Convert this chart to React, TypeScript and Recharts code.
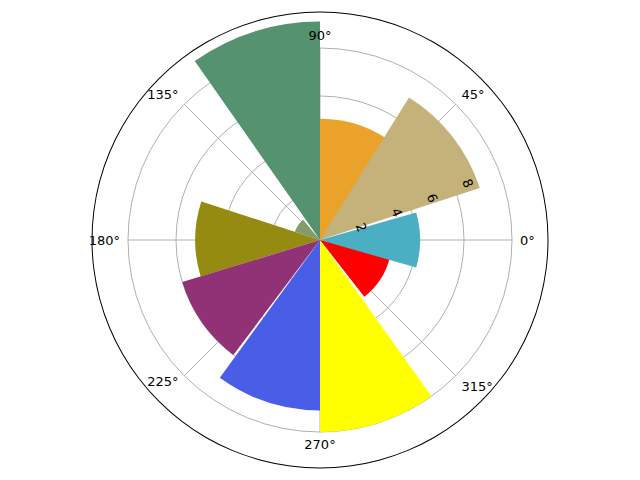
import { Pie, PieChart, PolarAngleAxis, PolarGrid, PolarRadiusAxis } from 'recharts'

const R_MAX = 9.5
const OUTER = 228

const barNames = ['teal', 'orange', 'tan', 'green', 'sage', 'olive', 'purple', 'blue', 'yellow', 'red']
const startAngles = [-16, 50, 18, 90, 130, 162, 197, 234, 270, 308]
const endAngles = [16, 90, 58, 125, 162, 197, 233, 270, 305.5, 348]
const radii = [4.17, 5.05, 7.0, 9.1, 1.1, 5.2, 6.0, 7.1, 8.0, 3.0]
const colors = ['#4bafc4', '#eba22b', '#c4b27a', '#559370', '#849b6a', '#948b10', '#903275', '#4a5de6', '#ffff00', '#ff0000']
// matplotlib draw order
const drawOrder = [1, 2, 3, 4, 5, 6, 7, 8, 9, 0]
const radialTicks = [2, 4, 6, 8]
const angleTicks = [0, 45, 90, 135, 180, 225, 270, 315]

const scaleR = (v: number) => (v / R_MAX) * OUTER

export default function App() {
  return (
    <div style={{ margin: -8, width: 640, height: 480, background: '#fff' }}>
      <PieChart width={640} height={480} margin={{ top: 0, right: 0, bottom: 0, left: 0 }}>
        {drawOrder.map((i) => (
          <Pie
            key={barNames[i]}
            data={[{ name: barNames[i], value: 1 }]}
            dataKey="value"
            cx={320}
            cy={240}
            innerRadius={0}
            outerRadius={scaleR(radii[i])}
            startAngle={startAngles[i]}
            endAngle={endAngles[i]}
            fill={colors[i]}
            stroke="none"
            isAnimationActive={false}
          />
        ))}
        <PolarAngleAxis
          type="number"
          dataKey="value"
          domain={[0, 360]}
          ticks={angleTicks}
          tickFormatter={(v: number) => `${v}°`}
          axisLine={false}
          tickLine={false}
          tick={{ fill: '#000', fontSize: 13, fontFamily: 'DejaVu Sans' }}
        />
        <PolarRadiusAxis
          type="number"
          domain={[0, R_MAX]}
          ticks={radialTicks}
          angle={22.5}
          axisLine={false}
          tickLine={false}
          tick={{ fill: '#000', fontSize: 13, fontFamily: 'DejaVu Sans' }}
        />
        <PolarGrid
          gridType="circle"
          cx={320}
          cy={240}
          outerRadius={OUTER}
          polarRadius={radialTicks.map(scaleR)}
          polarAngles={angleTicks}
          stroke="#b0b0b0"
        />
        <Pie
          data={[{ name: 'frame', value: 1 }]}
          dataKey="value"
          cx={320}
          cy={240}
          innerRadius={OUTER - 0.5}
          outerRadius={OUTER + 0.5}
          startAngle={0}
          endAngle={360}
          fill="#000"
          stroke="none"
          isAnimationActive={false}
        />
      </PieChart>
    </div>
  )
}
